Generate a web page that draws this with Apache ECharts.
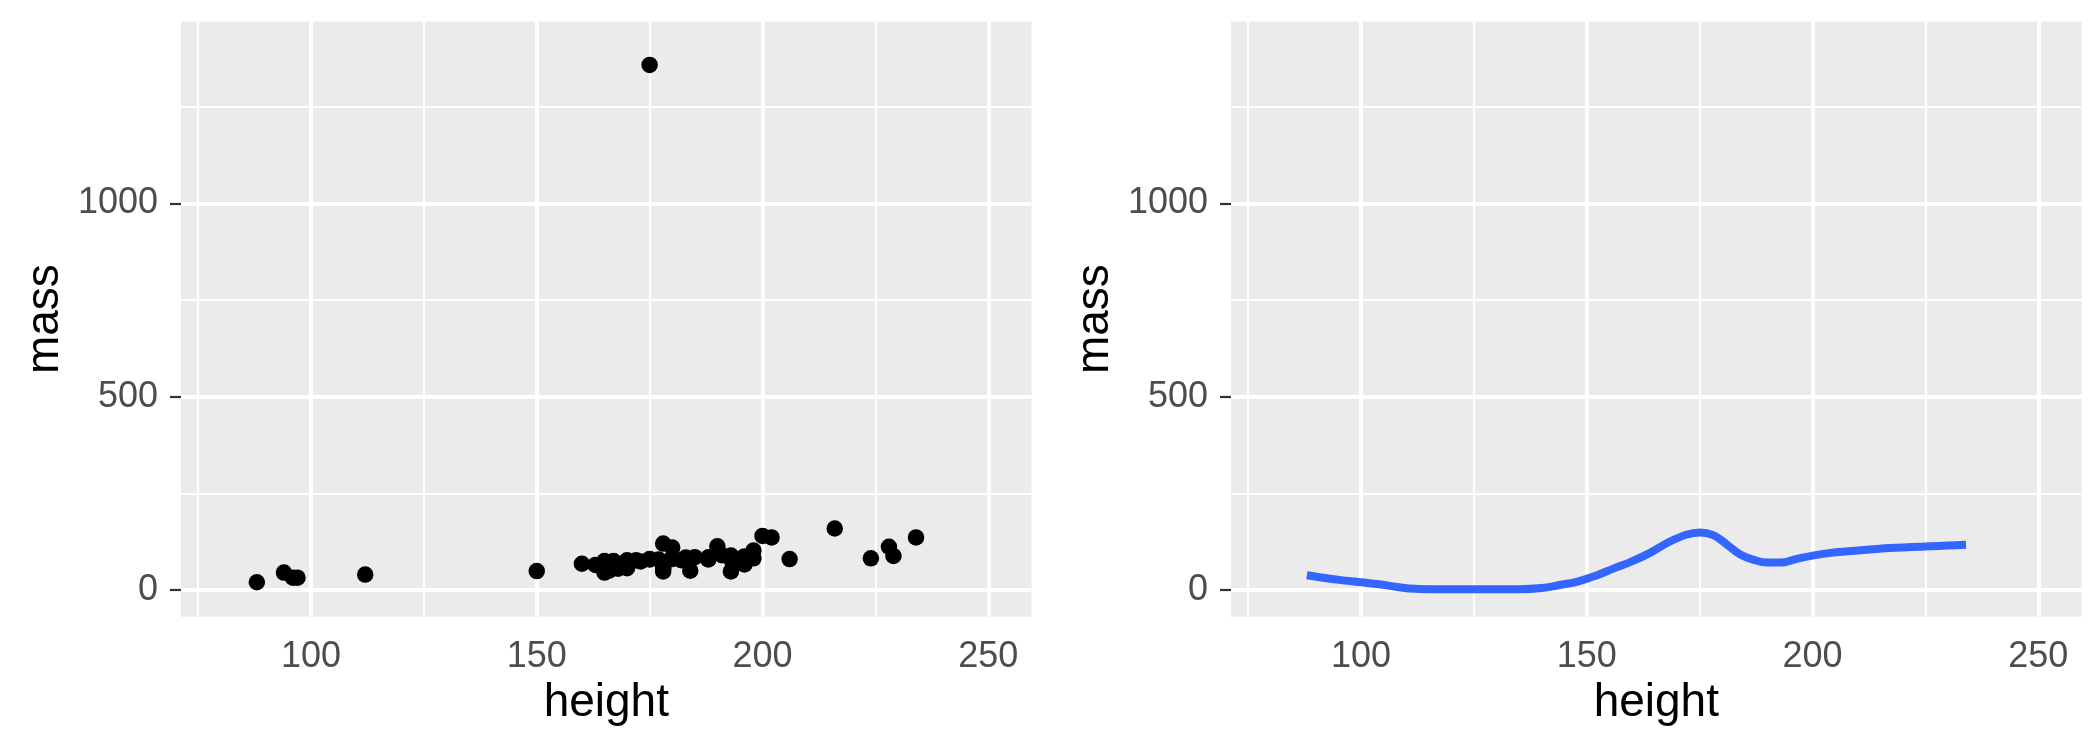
<!DOCTYPE html>
<html>
<head>
<meta charset="utf-8">
<script src="https://cdn.jsdelivr.net/npm/echarts@6/dist/echarts.min.js"></script>
<style>
html,body{margin:0;padding:0;background:#fff;}
#c{width:2100px;height:750px;}
</style>
</head>
<body>
<div id="c"></div>
<script>
// scatter data (height, mass)
const heights = [172,167,96,202,150,178,165,97,183,182,188,228,180,173,175,170,180,170,183,200,190,177,175,180,88,160,193,191,196,224,112,175,178,94,163,188,198,196,184,188,185,183,170,166,193,183,168,198,229,193,178,216,234,188,178,206,165];
const masses  = [77,75,32,136,49,120,75,32,84,77,84,112,80,74,1358,77,110,75,78.2,140,113,79,79,83,20,68,89,90,66,82,40,80,55,45,65,84,82,87,50,80,85,80,56.2,50,80,79,55,102,88,48,57,159,136,79,48,80,45];

// smoothed curve (height, mass)
const smoothHeight = [88,92,96,100,104,108,112,116,120,125,130,135,140,144,148,152,156,160,164,168,172,175,178,181,184,187,190,193,196,200,204,208,212,216,220,224,228,232,234];
const smoothMass   = [38,31,25,20,15,8,3,2,2,2,2,2,5,13,22,37,56,74,96,123,143,149,142,118,92,78,71,71,79,89,96,100,104,108,110,112,114,116,117];

const xTicks = [100,150,200,250];
const xMinor = [75,125,175,225];
const yTicks = [0,500,1000];
const yMinor = [250,750,1250];

const FONT = '"Liberation Sans", Arial, sans-serif';

function xAxisFor(g){
  return {
    type:'value', gridIndex:g, min:71.2, max:259.6,
    splitLine:{show:false}, axisLine:{show:false},
    axisTick:{show:true, length:11, customValues:xTicks, lineStyle:{color:'#333333', width:2.2}},
    axisLabel:{customValues:xTicks, color:'#4D4D4D', fontSize:36, lineHeight:36, margin:22, fontFamily:FONT,
               formatter:(v)=>String(v)},
    name:'height', nameLocation:'middle', nameGap:64,
    nameTextStyle:{color:'#000000', fontSize:46, lineHeight:46, fontFamily:FONT}
  };
}
function yAxisFor(g){
  return {
    type:'value', gridIndex:g, min:-69, max:1470,
    splitLine:{show:false}, axisLine:{show:false},
    axisTick:{show:true, length:11, customValues:yTicks, lineStyle:{color:'#333333', width:2.2}},
    axisLabel:{customValues:yTicks, color:'#4D4D4D', fontSize:36, margin:23, fontFamily:FONT,
               formatter:(v)=>String(v)},
    name:'mass', nameLocation:'middle', nameGap:113, nameRotate:90,
    nameTextStyle:{color:'#000000', fontSize:46, lineHeight:46, fontFamily:FONT}
  };
}
function gridLines(g){
  const data = [];
  xMinor.forEach(v=>data.push({xAxis:v, lineStyle:{width:2, color:'#FFFFFF', type:'solid'}}));
  yMinor.forEach(v=>data.push({yAxis:v, lineStyle:{width:2, color:'#FFFFFF', type:'solid'}}));
  xTicks.forEach(v=>data.push({xAxis:v, lineStyle:{width:4, color:'#FFFFFF', type:'solid'}}));
  yTicks.forEach(v=>data.push({yAxis:v, lineStyle:{width:4, color:'#FFFFFF', type:'solid'}}));
  return {
    type:'scatter', xAxisIndex:g, yAxisIndex:g, data:[], z:1, zlevel:0, silent:true,
    markLine:{silent:true, symbol:['none','none'], label:{show:false}, animation:false, data:data}
  };
}

const pts = heights.map((h,i)=>[h, masses[i]]);
const curve = smoothHeight.map((h,i)=>[h, smoothMass[i]]);

const chart = echarts.init(document.getElementById('c'), null, {renderer:'canvas'});
chart.setOption({
  animation:false,
  backgroundColor:'#FFFFFF',
  grid:[
    {left:181, top:21.6, width:850.6, height:595.1, show:true, backgroundColor:'#EBEBEB', borderWidth:0},
    {left:1231, top:21.6, width:850.6, height:595.1, show:true, backgroundColor:'#EBEBEB', borderWidth:0}
  ],
  xAxis:[xAxisFor(0), xAxisFor(1)],
  yAxis:[yAxisFor(0), yAxisFor(1)],
  series:[
    gridLines(0), gridLines(1),
    {type:'scatter', xAxisIndex:0, yAxisIndex:0, data:pts, symbol:'circle', symbolSize:16.5,
     itemStyle:{color:'#000000', opacity:1}, z:3, zlevel:1},
    {type:'line', xAxisIndex:1, yAxisIndex:1, data:curve, showSymbol:false, smooth:0.4,
     lineStyle:{color:'#3366FF', width:8}, z:3, zlevel:1}
  ]
});
</script>
</body>
</html>
